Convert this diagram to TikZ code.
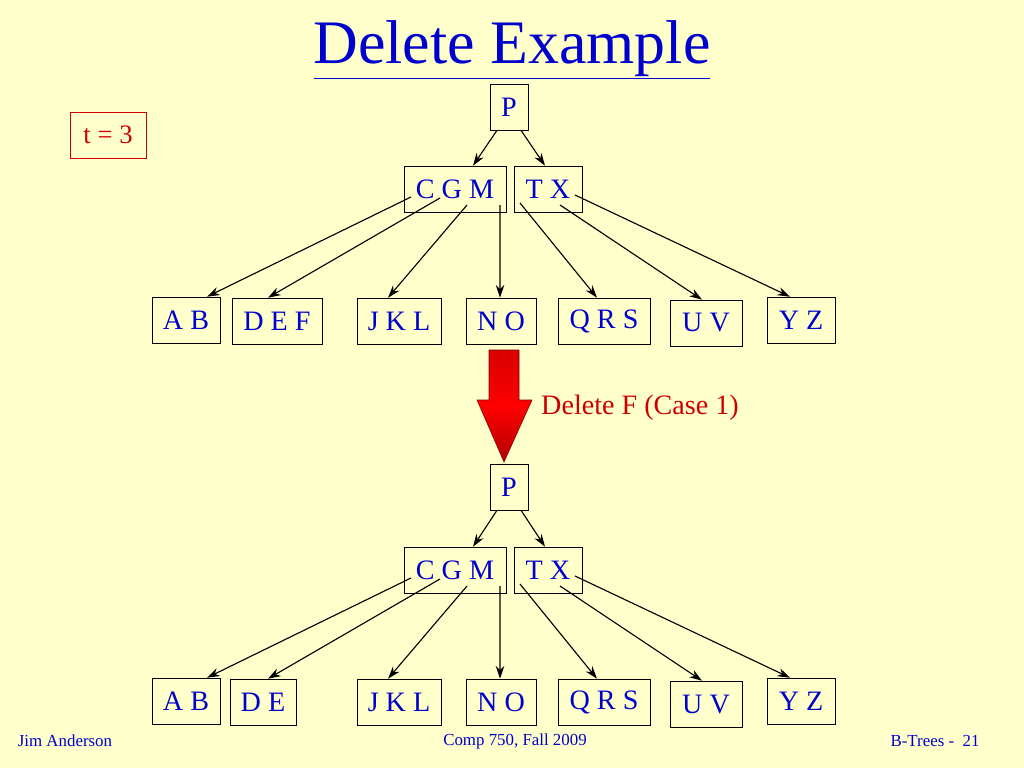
\documentclass[tikz,border=0pt]{standalone}
\usepackage{fontspec}
\setmainfont{Liberation Serif}
\usetikzlibrary{arrows.meta}
\definecolor{slidebg}{RGB}{255,255,204}
\definecolor{slideblue}{RGB}{0,0,204}
\definecolor{slidered}{RGB}{204,0,0}
\tikzset{
  key/.style={draw=black,fill=slidebg,text=slideblue,minimum height=1.15cm,inner sep=0pt,font=\fontsize{20}{22}\selectfont},
  ptr/.style={-{Stealth[length=9pt,width=6pt]},thick}
}
\begin{document}
\begin{tikzpicture}[x=0.025cm,y=-0.025cm]
  \fill[slidebg] (0,0) rectangle (1024,768);
  \useasboundingbox (0,0) rectangle (1024,768);
  \node (title) at (512,50)[text=slideblue,font=\fontsize{44}{48}\selectfont]{\underline{Delete Example}};
  \node (t) at (108,135)[draw=slidered,text=slidered,minimum width=1.9cm,minimum height=1.15cm,font=\fontsize{19}{21}\selectfont]{t = 3};

  % before
  \node (P) at (509,107)[key,minimum width=0.95cm]{P};
  \node (CGM) at (455,189)[key,minimum width=2.55cm]{C G M};
  \node (TX) at (548,189)[key,minimum width=1.7cm]{T X};
  \node (AB) at (186,320)[key,minimum width=1.7cm]{A B};
  \node (DEF) at (277,321)[key,minimum width=2.25cm]{D E F};
  \node (JKL) at (399,321)[key,minimum width=2.1cm]{J K L};
  \node (NO) at (501,321)[key,minimum width=1.75cm]{N O};
  \node (QRS) at (604,321)[key,minimum width=2.3cm]{Q R S};
  \node (UV) at (706,323)[key,minimum width=1.8cm]{U V};
  \node (YZ) at (801,320)[key,minimum width=1.7cm]{Y Z};
  \draw[ptr] ([xshift=-0.3cm]P.south) -- ([xshift=0.45cm]CGM.north);
  \draw[ptr] ([xshift=0.3cm]P.south) -- ([xshift=-0.075cm]TX.north);
  \draw[ptr] ([xshift=-1.1cm,yshift=-0.2cm]CGM.center) -- ([xshift=0.525cm]AB.north);
  \draw[ptr] ([xshift=-0.375cm,yshift=-0.225cm]CGM.center) -- ([xshift=-0.225cm]DEF.north);
  \draw[ptr] ([xshift=0.3cm,yshift=-0.4cm]CGM.center) -- ([xshift=-0.275cm]JKL.north);
  \draw[ptr] ([xshift=1.125cm,yshift=-0.4cm]CGM.center) -- ([xshift=-0.025cm]NO.north);
  \draw[ptr] ([xshift=-0.7cm,yshift=-0.35cm]TX.center) -- ([xshift=-0.175cm]QRS.north);
  \draw[ptr] ([xshift=0.3cm,yshift=-0.4cm]TX.center) -- ([xshift=-0.1cm]UV.north);
  \draw[ptr] ([xshift=0.675cm,yshift=-0.15cm]TX.center) -- ([xshift=-0.275cm]YZ.north);

  % big arrow
  \draw[draw=red!50!black,top color=red!85!black,bottom color=red!70!black,middle color=red]
    (489,350) -- (519,350) -- (519,400) -- (532,400) -- (504,462) -- (477,400) -- (489,400) -- cycle;
  \node (case) at (640,408)[text=slidered,font=\fontsize{20}{22}\selectfont]{Delete F (Case 1)};

  % after
  \node (P2) at (509,487)[key,minimum width=0.95cm]{P};
  \node (CGM2) at (455,570)[key,minimum width=2.55cm]{C G M};
  \node (TX2) at (548,570)[key,minimum width=1.7cm]{T X};
  \node (AB2) at (186,701)[key,minimum width=1.7cm]{A B};
  \node (DE2) at (263,702)[key,minimum width=1.65cm]{D E};
  \node (JKL2) at (399,702)[key,minimum width=2.1cm]{J K L};
  \node (NO2) at (501,702)[key,minimum width=1.75cm]{N O};
  \node (QRS2) at (604,702)[key,minimum width=2.3cm]{Q R S};
  \node (UV2) at (706,704)[key,minimum width=1.8cm]{U V};
  \node (YZ2) at (801,701)[key,minimum width=1.7cm]{Y Z};
  \draw[ptr] ([xshift=-0.3cm]P2.south) -- ([xshift=0.45cm]CGM2.north);
  \draw[ptr] ([xshift=0.3cm]P2.south) -- ([xshift=-0.075cm]TX2.north);
  \draw[ptr] ([xshift=-1.1cm,yshift=-0.2cm]CGM2.center) -- ([xshift=0.525cm]AB2.north);
  \draw[ptr] ([xshift=-0.375cm,yshift=-0.225cm]CGM2.center) -- ([xshift=0.125cm]DE2.north);
  \draw[ptr] ([xshift=0.3cm,yshift=-0.4cm]CGM2.center) -- ([xshift=-0.275cm]JKL2.north);
  \draw[ptr] ([xshift=1.125cm,yshift=-0.4cm]CGM2.center) -- ([xshift=-0.025cm]NO2.north);
  \draw[ptr] ([xshift=-0.7cm,yshift=-0.35cm]TX2.center) -- ([xshift=-0.175cm]QRS2.north);
  \draw[ptr] ([xshift=0.3cm,yshift=-0.4cm]TX2.center) -- ([xshift=-0.1cm]UV2.north);
  \draw[ptr] ([xshift=0.675cm,yshift=-0.15cm]TX2.center) -- ([xshift=-0.275cm]YZ2.north);

  % footer
  \node (author) at (65,741)[text=slideblue,font=\fontsize{12}{14}\selectfont]{Jim Anderson};
  \node (course) at (515,741)[text=slideblue,font=\fontsize{12}{14}\selectfont]{Comp 750, Fall 2009};
  \node (page) at (935,741)[text=slideblue,font=\fontsize{12}{14}\selectfont]{B-Trees -\ \ 21};
\end{tikzpicture}
\end{document}
